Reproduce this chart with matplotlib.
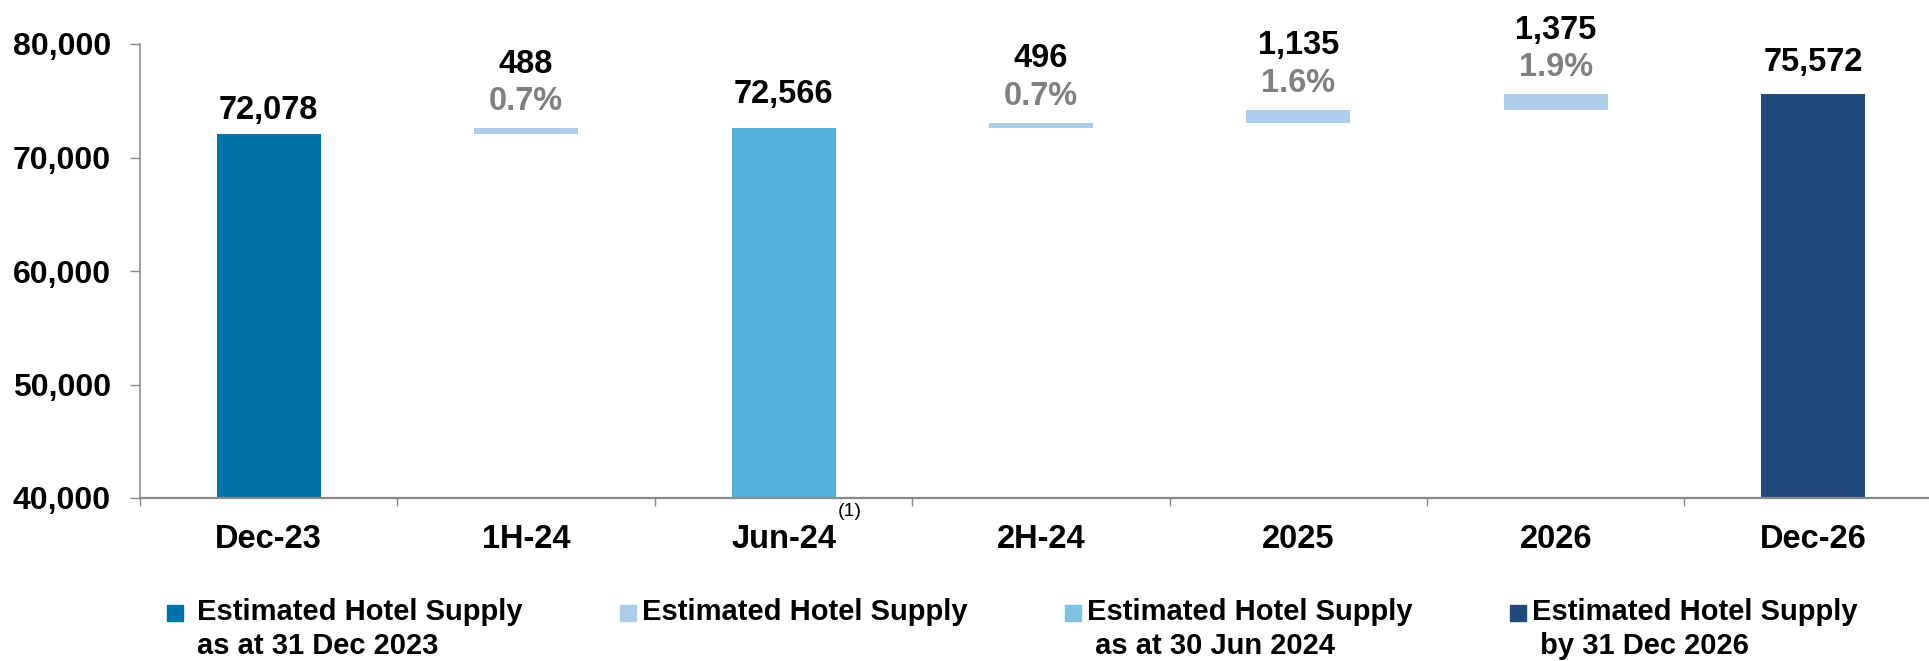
import matplotlib.pyplot as plt
from matplotlib.patches import Rectangle

# data
categories = ['Dec-23', '1H-24', 'Jun-24', '2H-24', '2025', '2026', 'Dec-26']
total_pos = [0, 2, 6]
total_vals = [72078, 72566, 75572]
inc_pos = [1, 3, 4, 5]
inc_vals = [488, 496, 1135, 1375]
inc_pct = ['0.7%', '0.7%', '1.6%', '1.9%']
yticks = [40000, 50000, 60000, 70000, 80000]

legend_labels = [('Estimated Hotel Supply', 'as at 31 Dec 2023'),
                 ('Estimated Hotel Supply', ''),
                 ('Estimated Hotel Supply', ' as at 30 Jun 2024'),
                 ('Estimated Hotel Supply', ' by 31 Dec 2026')]

total_colors = ['#0072AA', '#52B2D9', '#21497B']
inc_color = '#ABCDEB'
legend_colors = ['#0072AA', '#ABCDEB', '#7EC4E0', '#21497B']

plt.rcParams['font.family'] = ['Liberation Sans', 'DejaVu Sans']
plt.rcParams['font.weight'] = 'bold'

W, H = 1929, 661
fig = plt.figure(figsize=(W / 100, H / 100), dpi=100)
ax = fig.add_axes([140 / W, 163 / H, 1789 / W, 454 / H])

base = 40000
bw = 0.404
fs = 23.5

# full bars
ax.bar(total_pos, [v - base for v in total_vals], bottom=base, width=bw,
       color=total_colors, zorder=2)

# floating increments
starts = []
level = total_vals[0]
for v in inc_vals:
    starts.append(level)
    level += v
ax.bar(inc_pos, inc_vals, bottom=starts, width=bw, color=inc_color, zorder=2)

# labels
for x, v, off in zip(total_pos, total_vals, [11, 18, 17]):
    ax.annotate(f'{v:,}', (x, v), xytext=(0, off), textcoords='offset points',
                ha='center', va='baseline', fontsize=fs, fontweight='bold')
for x, s, v, p in zip(inc_pos, starts, inc_vals, inc_pct):
    top = s + v
    ax.annotate(p, (x, top), xytext=(0, 13), textcoords='offset points',
                ha='center', va='baseline', fontsize=fs, fontweight='bold',
                color='#808080')
    ax.annotate(f'{v:,}', (x, top), xytext=(0, 40), textcoords='offset points',
                ha='center', va='baseline', fontsize=fs, fontweight='bold')

# axes styling
ax.set_ylim(40000, 80000)
ax.set_xlim(-0.5, 6.45)
ax.set_yticks(yticks)
ax.set_yticklabels([f'{t:,}' for t in yticks], fontsize=23, fontweight='bold')
ax.tick_params(axis='y', length=7, width=1, color='#888888', pad=14)

ax.set_xticks(range(len(categories)))
ax.set_xticklabels(categories, fontsize=fs, fontweight='bold')
ax.set_xticks([i - 0.5 for i in range(len(categories))], minor=True)
ax.tick_params(axis='x', which='major', length=0, pad=19)
ax.tick_params(axis='x', which='minor', length=6, width=1, color='#888888')

for s in ['top', 'right']:
    ax.spines[s].set_visible(False)
ax.spines['left'].set_color('#888888')
ax.spines['left'].set_linewidth(1.1)
ax.spines['bottom'].set_color('#888888')
ax.spines['bottom'].set_linewidth(1.6)
ax.spines['bottom'].set_zorder(3)

# footnote marker on Jun-24
ax.annotate('(1)', (2, 0), xycoords=('data', 'axes fraction'),
            xytext=(48, -10), textcoords='offset points',
            ha='center', va='center', fontsize=14, fontweight='normal')

# legend drawn by hand
marker_x = [167, 620, 1065, 1510]
text_x = [197, 642, 1087, 1532]
for mx, tx, c, (l1, l2) in zip(marker_x, text_x, legend_colors, legend_labels):
    fig.patches.append(Rectangle((mx / W, (H - 621) / H), 16 / W, 16 / H,
                                 transform=fig.transFigure, color=c))
    fig.text(tx / W, (H - 612) / H, l1, fontsize=21, fontweight='bold',
             ha='left', va='center')
    if l2:
        fig.text(tx / W, (H - 646) / H, l2, fontsize=21, fontweight='bold',
                 ha='left', va='center')

fig.savefig('out.png', dpi=100)
